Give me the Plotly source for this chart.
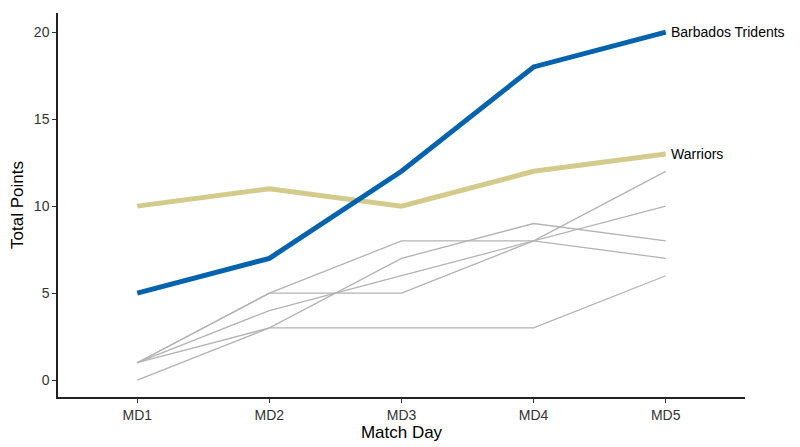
import plotly.graph_objects as go

match_days = ["MD1", "MD2", "MD3", "MD4", "MD5"]

tridents = [5, 7, 12, 18, 20]
warriors = [10, 11, 10, 12, 13]

# the other teams, drawn in grey
others = {
    "Team A": [1, 5, 8, 8, 7],
    "Team B": [1, 5, 5, 8, 12],
    "Team C": [1, 4, 6, 8, 10],
    "Team D": [0, 3, 7, 9, 8],
    "Team E": [1, 3, 3, 3, 6],
}

fig = go.Figure()

for name, vals in others.items():
    fig.add_trace(go.Scatter(x=match_days, y=vals, mode="lines", name=name,
                             line=dict(color="#b3b3b3", width=1.3)))

fig.add_trace(go.Scatter(x=match_days, y=warriors, mode="lines", name="Warriors",
                         line=dict(color="#d3cb8c", width=5)))
fig.add_trace(go.Scatter(x=match_days, y=tridents, mode="lines", name="Barbados Tridents",
                         line=dict(color="#0563ad", width=5)))

for name, vals in [("Barbados Tridents", tridents), ("Warriors", warriors)]:
    fig.add_annotation(x=match_days[-1], y=vals[-1], text=name, showarrow=False,
                       xanchor="left", xshift=3, yanchor="middle",
                       font=dict(size=14, color="black"))

# page body has an 8px margin, so the figure is a little smaller
fig.update_layout(
    width=792,
    height=439,
    margin=dict(l=50, r=55, t=5, b=50, autoexpand=False),
    plot_bgcolor="white",
    paper_bgcolor="white",
    showlegend=False,
    font=dict(family="Liberation Sans, Arial, sans-serif", color="black"),
)
fig.update_xaxes(
    range=[-0.6, 4.6],
    title=dict(text="Match Day", font=dict(size=17), standoff=3),
    showgrid=False, zeroline=False,
    showline=True, linecolor="#222", linewidth=1.5,
    ticks="outside", ticklen=4, tickcolor="#333",
    tickfont=dict(size=14, color="#333"),
)
fig.update_yaxes(
    range=[-0.97, 21.1],
    tickvals=[0, 5, 10, 15, 20],
    title=dict(text="Total Points", font=dict(size=17), standoff=6),
    showgrid=False, zeroline=False,
    showline=True, linecolor="#222", linewidth=1.5,
    ticks="outside", ticklen=4, tickcolor="#333",
    tickfont=dict(size=14, color="#333"),
)

fig.write_html("out.html")
